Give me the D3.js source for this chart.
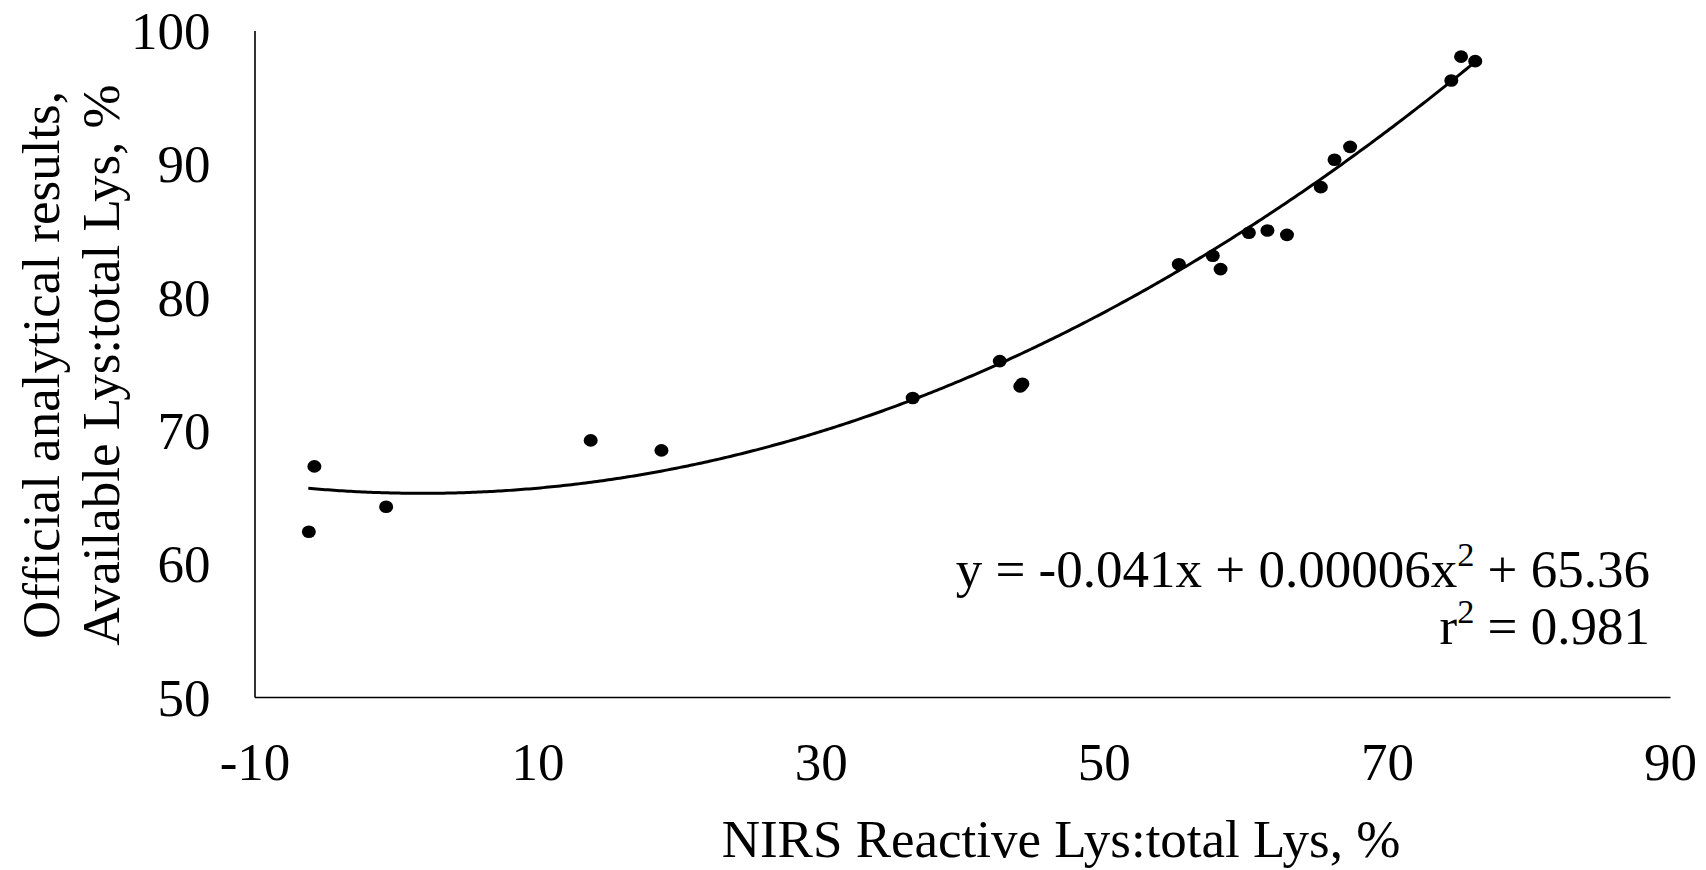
<!DOCTYPE html>
<html><head><meta charset="utf-8">
<script src="https://cdn.jsdelivr.net/npm/d3@7"></script>
<style>html,body{margin:0;padding:0;background:#fff;}svg{display:block;}</style>
</head><body>
<svg id="chart" width="1706" height="870"></svg>
<script>
const xValues = [-6.16, -5.77, -0.70, 13.75, 18.75, 36.5, 42.65, 44.1, 44.25, 55.3, 57.7, 58.25, 60.25, 61.56, 62.94, 65.33, 66.3, 67.4, 74.55, 75.24, 76.24];
const yValues = [62.4, 67.3, 64.27, 69.25, 68.5, 72.43, 75.2, 73.3, 73.5, 82.46, 83.1, 82.1, 84.83, 85.0, 84.67, 88.25, 90.3, 91.27, 96.25, 98.04, 97.7];
const xTicks = [-10, 10, 30, 50, 70, 90];
const yTicks = [50, 60, 70, 80, 90, 100];
const trendCoefs = [65.30, -0.0217, 0.00585]; // as drawn: a + b x + c x^2
const trendRange = [-6.2, 76.2];
const xTitle = "NIRS Reactive Lys:total Lys, %";
const yTitleLines = ["Official analytical results,", "Available Lys:total Lys, %"];
const eqText = ["y = -0.041x + 0.00006x", "2", " + 65.36"];
const r2Text = ["r", "2", " = 0.981"];

const svg = d3.select("#chart");
const font = "'Liberation Serif', 'Times New Roman', serif";
const fs = 53;
const x = d3.scaleLinear().domain([-10, 90]).range([254.5, 1670]);
const y = d3.scaleLinear().domain([50, 100]).range([697, 30.5]);

// axes
const xAxis = svg.append("g").attr("transform", `translate(0,${y(50)})`)
  .call(d3.axisBottom(x).tickValues(xTicks).tickSize(0).tickPadding(0).tickFormat(d => String(d)));
xAxis.select(".domain").attr("stroke", "#000").attr("stroke-width", 1.6);
xAxis.selectAll("text").attr("font-family", font).attr("font-size", fs).attr("fill", "#000")
  .attr("dy", null).attr("y", 83);

const yAxis = svg.append("g").attr("transform", `translate(${x(-10)},0)`)
  .call(d3.axisLeft(y).tickValues(yTicks).tickSize(0).tickPadding(0).tickFormat(d => String(d)));
yAxis.select(".domain").attr("stroke", "#000").attr("stroke-width", 1.6);
yAxis.selectAll("text").attr("font-family", font).attr("font-size", fs).attr("fill", "#000")
  .attr("x", -44).attr("dy", "0.34em");

// trendline
const trendX = d3.range(trendRange[0], trendRange[1] + 0.001, 0.2);
const line = d3.line().x(d => x(d)).y(d => y(trendCoefs[0] + trendCoefs[1] * d + trendCoefs[2] * d * d));
svg.append("path").datum(trendX).attr("d", line).attr("fill", "none").attr("stroke", "#000").attr("stroke-width", 3);

// points
svg.append("g").selectAll("ellipse").data(xValues.map((v, i) => [v, yValues[i]])).join("ellipse")
  .attr("cx", d => x(d[0])).attr("cy", d => y(d[1])).attr("rx", 7).attr("ry", 6.3).attr("fill", "#000");

// titles
svg.append("text").attr("x", 1061).attr("y", 857).attr("text-anchor", "middle")
  .attr("font-family", font).attr("font-size", fs).text(xTitle);
const yt = svg.append("text").attr("transform", "translate(0,365) rotate(-90)")
  .attr("font-family", font).attr("font-size", fs).attr("text-anchor", "middle");
yt.append("tspan").attr("x", 0).attr("y", 59).text(yTitleLines[0]);
yt.append("tspan").attr("x", 0).attr("y", 119).text(yTitleLines[1]);

// equation
function supText(tx, ty, parts) {
  const t = svg.append("text").attr("x", tx).attr("y", ty).attr("text-anchor", "end")
    .attr("font-family", font).attr("font-size", fs);
  t.append("tspan").text(parts[0]);
  t.append("tspan").attr("font-size", fs * 0.65).attr("dy", -21).text(parts[1]);
  t.append("tspan").attr("dy", 21).text(parts[2]);
}
supText(1650, 587, eqText);
supText(1650, 644, r2Text);
</script>
</body></html>
